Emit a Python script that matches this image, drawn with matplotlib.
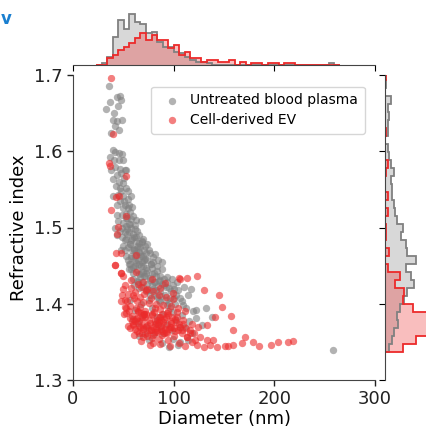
import matplotlib
matplotlib.use("Agg")
import matplotlib.pyplot as plt
import numpy as np

# ---------------- data ----------------
plasma_d = [
    36, 33, 37, 44, 47, 48, 41, 40, 44, 49, 46, 38, 42, 45,
    40, 42, 46, 49, 37, 41, 46, 50, 42, 47, 52, 38, 44, 48, 53, 46, 50, 40, 47, 43, 51,
    40, 45, 50, 55, 58, 47, 44, 52, 55, 44, 49, 53, 58, 63, 68, 45, 50, 53, 56, 42,
    47, 52, 56, 60, 44, 49, 53, 58, 63, 69, 74, 50, 55, 61, 66, 71, 76, 81, 53, 58,
    65, 69, 74, 79, 84, 57, 62, 68, 73, 78, 83, 60, 66, 71, 76, 86, 93, 64, 69, 74,
    81, 88, 93, 66, 73, 79, 86, 97, 102, 76, 83, 91, 96, 106, 114, 117,
    59, 64, 48, 62, 70, 56, 88, 92, 99, 70, 61, 67,
    86, 93, 101, 109, 112, 119, 122, 122, 138, 99, 89, 83, 102, 93, 86, 98, 106, 111,
    89, 99, 106, 114, 258,
    73, 78, 70, 65, 80, 75, 88, 104, 95, 118, 128, 132, 68, 62, 57, 75, 108, 115, 82,
    60, 72, 66,
    52, 57, 63, 67, 72, 77, 80, 85, 90, 95, 100, 104, 108, 96, 58, 61, 66, 62, 54, 57,
    60, 50, 48, 53, 56, 59, 64, 70, 75, 68, 73, 78, 82, 87, 92, 58, 63, 55, 52, 49,
    55, 51, 54, 66, 72, 83, 88, 98, 103, 110,
    56, 60, 64, 68, 72, 76, 80, 84, 58, 62, 66, 70, 74, 78, 82, 86, 90, 60, 65, 70,
    75, 80, 85, 95, 100, 57, 61, 67, 71, 77, 63, 69, 73, 79, 54, 59, 65, 53, 57, 62,
]
plasma_ri = [
    1.685, 1.655, 1.664, 1.671, 1.672, 1.667, 1.650, 1.641, 1.640, 1.641, 1.628, 1.624, 1.633, 1.660,
    1.601, 1.599, 1.598, 1.596, 1.592, 1.588, 1.588, 1.588, 1.580, 1.577, 1.576, 1.575, 1.569, 1.571,
    1.575, 1.560, 1.558, 1.564, 1.552, 1.555, 1.565,
    1.541, 1.543, 1.541, 1.537, 1.541, 1.535, 1.529, 1.529, 1.525, 1.516, 1.516, 1.518, 1.511, 1.510,
    1.508, 1.508, 1.506, 1.502, 1.504, 1.500, 1.496, 1.494, 1.494, 1.492, 1.490, 1.488, 1.485, 1.483,
    1.482, 1.481, 1.478, 1.476, 1.474, 1.472, 1.468, 1.471, 1.467, 1.465, 1.462, 1.460, 1.458, 1.455,
    1.457, 1.455, 1.457, 1.452, 1.449, 1.449, 1.447, 1.447, 1.443, 1.440, 1.439, 1.437, 1.434, 1.437,
    1.435, 1.430, 1.428, 1.426, 1.428, 1.426, 1.429, 1.421, 1.417, 1.419, 1.417, 1.417, 1.412, 1.411,
    1.409, 1.411, 1.407, 1.407, 1.411, 1.419,
    1.470, 1.476, 1.470, 1.463, 1.462, 1.446, 1.445, 1.422, 1.425, 1.442, 1.425, 1.435,
    1.402, 1.398, 1.400, 1.398, 1.394, 1.391, 1.392, 1.381, 1.383, 1.389, 1.387, 1.383, 1.379, 1.374,
    1.370, 1.366, 1.370, 1.370, 1.361, 1.354, 1.350, 1.352, 1.339,
    1.370, 1.395, 1.385, 1.375, 1.360, 1.352, 1.348, 1.346, 1.343, 1.362, 1.372, 1.395, 1.400, 1.392,
    1.405, 1.405, 1.385, 1.378, 1.375, 1.380, 1.360, 1.358,
    1.470, 1.478, 1.466, 1.474, 1.459, 1.452, 1.440, 1.430, 1.432, 1.421, 1.420, 1.418, 1.403, 1.395,
    1.500, 1.488, 1.490, 1.503, 1.512, 1.520, 1.515, 1.525, 1.548, 1.552, 1.530, 1.527, 1.495, 1.485,
    1.470, 1.462, 1.440, 1.425, 1.418, 1.410, 1.405, 1.445, 1.453, 1.458, 1.484, 1.500, 1.548, 1.535,
    1.498, 1.480, 1.476, 1.450, 1.455, 1.432, 1.428, 1.422,
    1.452, 1.448, 1.444, 1.440, 1.436, 1.431, 1.428, 1.423, 1.463, 1.458, 1.452, 1.449, 1.444, 1.439,
    1.436, 1.431, 1.424, 1.433, 1.428, 1.422, 1.418, 1.412, 1.405, 1.401, 1.408, 1.478, 1.471, 1.465,
    1.458, 1.452, 1.488, 1.482, 1.466, 1.461, 1.492, 1.486, 1.475, 1.512, 1.505, 1.498,
]

ev_d = [
    38, 40, 36, 37, 53, 46, 43, 38, 53, 45, 44, 48, 42, 48, 50, 49, 48, 52, 53,
    43, 42, 48, 63, 50, 52, 60, 73, 106,
    52, 55, 58, 54, 57, 61, 62, 56, 59, 63, 64, 67, 68, 60, 64, 65, 67, 70, 71, 74,
    62, 66, 69, 71, 72, 75, 77, 79, 66, 70, 73, 75, 78, 81, 82, 85, 70, 74, 77, 79,
    81, 85, 86, 89, 74, 78, 81, 83, 87, 89, 92, 94, 97, 79, 83, 85, 88, 92, 95, 97,
    101, 103, 86, 90, 94, 97, 100, 104, 106, 109, 96, 101, 105, 109, 113, 116, 111, 116, 121,
    58, 65, 70, 53, 57, 61, 68, 76, 92, 99, 104, 111, 118, 124, 51, 55, 86, 91, 78,
    63, 99,
    105, 113, 123, 130, 145, 148, 133, 141, 157, 159, 171, 179, 185, 197, 204, 214, 219,
    168, 159, 151, 143, 136, 130, 123, 118, 113, 108, 120, 126, 139, 154, 133,
    60, 66, 72, 78, 84, 90, 96, 102, 108, 64, 70, 76, 82, 88, 94, 100, 57, 68, 86, 92,
    62, 69, 75, 81, 87, 93, 71, 79,
    63, 67, 73, 77, 83, 87, 93, 97, 103, 59, 69, 74, 80, 85, 91, 98, 105, 112, 65, 88,
]
ev_ri = [
    1.696, 1.623, 1.585, 1.581, 1.568, 1.541, 1.540, 1.523, 1.515, 1.501, 1.492, 1.467, 1.451, 1.440,
    1.436, 1.412, 1.403, 1.396, 1.388,
    1.466, 1.451, 1.440, 1.464, 1.420, 1.405, 1.411, 1.418, 1.433,
    1.425, 1.413, 1.421, 1.404, 1.397, 1.408, 1.416, 1.391, 1.384, 1.394, 1.403, 1.409, 1.422, 1.374,
    1.381, 1.389, 1.396, 1.402, 1.413, 1.419, 1.367, 1.371, 1.379, 1.386, 1.391, 1.401, 1.407, 1.417,
    1.361, 1.367, 1.371, 1.379, 1.385, 1.394, 1.400, 1.411, 1.357, 1.362, 1.365, 1.369, 1.378, 1.383,
    1.393, 1.399, 1.358, 1.355, 1.363, 1.363, 1.367, 1.376, 1.382, 1.391, 1.397, 1.349, 1.366, 1.354,
    1.359, 1.363, 1.367, 1.375, 1.380, 1.389, 1.347, 1.361, 1.352, 1.370, 1.358, 1.365, 1.369, 1.379,
    1.344, 1.364, 1.348, 1.374, 1.357, 1.366, 1.344, 1.362, 1.353,
    1.431, 1.426, 1.429, 1.394, 1.381, 1.359, 1.351, 1.346, 1.409, 1.406, 1.394, 1.391, 1.374, 1.369,
    1.386, 1.371, 1.421, 1.427, 1.432, 1.441, 1.414,
    1.434, 1.434, 1.436, 1.418, 1.412, 1.396, 1.372, 1.383, 1.384, 1.365, 1.356, 1.350, 1.345, 1.346,
    1.350, 1.350, 1.351, 1.349, 1.346, 1.345, 1.343, 1.346, 1.343, 1.346, 1.350, 1.357, 1.361, 1.361,
    1.357, 1.353, 1.345, 1.353,
    1.372, 1.378, 1.382, 1.386, 1.374, 1.380, 1.370, 1.376, 1.366, 1.364, 1.370, 1.375, 1.368, 1.364,
    1.385, 1.368, 1.368, 1.388, 1.382, 1.372,
    1.377, 1.383, 1.366, 1.373, 1.379, 1.362, 1.387, 1.359,
    1.380, 1.369, 1.386, 1.366, 1.379, 1.371, 1.388, 1.377, 1.383, 1.378, 1.362, 1.372, 1.389, 1.376,
    1.367, 1.382, 1.373, 1.368, 1.391, 1.386,
]

labels = ["Untreated blood plasma", "Cell-derived EV"]
x_ticks = [0, 100, 200, 300]
y_ticks = [1.3, 1.4, 1.5, 1.6, 1.7]

# ---------------- figure ----------------
W, H = 426, 429
fig = plt.figure(figsize=(W / 100, H / 100), dpi=100)

def box(x0, y0, x1, y1):
    return [x0 / W, 1 - y1 / H, (x1 - x0) / W, (y1 - y0) / H]

ax = fig.add_axes(box(73, 75, 375, 380))
axx = fig.add_axes(box(73, 11, 375, 65), sharex=ax)
axy = fig.add_axes(box(385, 75, 439, 380), sharey=ax)

gray = "#808080"
red = "#ec2a2a"

ax.scatter(plasma_d, plasma_ri, s=28, color=gray, alpha=0.6, linewidths=0, label=labels[0])
ax.scatter(ev_d, ev_ri, s=28, color=red, alpha=0.6, linewidths=0, label=labels[1])

ax.set_xlim(0, 300)
ax.set_ylim(1.3, 1.7)
ax.set_xticks(x_ticks)
ax.set_yticks(y_ticks)
ax.set_xticklabels([str(t) for t in x_ticks])
ax.set_yticklabels(["%.1f" % t for t in y_ticks])
ax.tick_params(labelsize=13, length=4, width=1, colors="#222222")
ax.set_xlabel("Diameter (nm)", fontsize=13, labelpad=1)
ax.set_ylabel("Refractive index", fontsize=13, labelpad=4)
for s in ["top", "right"]:
    ax.spines[s].set_visible(False)
for s in ["left", "bottom"]:
    ax.spines[s].set_color("#444444")

leg = ax.legend(loc="upper right", fontsize=10, frameon=True, handletextpad=0.3,
                borderpad=0.5, labelspacing=0.4, markerscale=1.0, bbox_to_anchor=(0.99, 0.985))
leg.get_frame().set_edgecolor("#cccccc")

# marginal histograms
xbins = np.arange(23, 266, 5.5)
ybins = np.arange(1.3365, 1.705, 0.0105)

axx.hist(plasma_d, bins=xbins, histtype="stepfilled", color=gray, alpha=0.3)
axx.hist(plasma_d, bins=xbins, histtype="step", color=gray, lw=1.3)
axx.hist(ev_d, bins=xbins, histtype="stepfilled", color=red, alpha=0.3)
axx.hist(ev_d, bins=xbins, histtype="step", color=red, lw=1.3)

axy.hist(plasma_ri, bins=ybins, histtype="stepfilled", color=gray, alpha=0.3, orientation="horizontal")
axy.hist(plasma_ri, bins=ybins, histtype="step", color=gray, lw=1.3, orientation="horizontal")
axy.hist(ev_ri, bins=ybins, histtype="stepfilled", color=red, alpha=0.3, orientation="horizontal")
axy.hist(ev_ri, bins=ybins, histtype="step", color=red, lw=1.3, orientation="horizontal")

for a in (axx, axy):
    for s in ["top", "right", "left", "bottom"]:
        a.spines[s].set_visible(False)
    a.patch.set_alpha(0)
axx.spines["bottom"].set_visible(True)
axx.spines["bottom"].set_color("#444444")
axy.spines["left"].set_visible(True)
axy.spines["left"].set_color("#444444")
axx.tick_params(axis="x", labelbottom=False, length=4)
axx.tick_params(axis="y", left=False, labelleft=False)
axy.tick_params(axis="y", labelleft=False, length=4)
axy.tick_params(axis="x", bottom=False, labelbottom=False)
axx.set_ylim(bottom=0)
axy.set_xlim(left=0)

fig.text(0.002, 0.955, "v", color="#1a7fd0", fontsize=12, fontweight="bold", ha="left", va="center")

fig.savefig("out.png", dpi=100)
